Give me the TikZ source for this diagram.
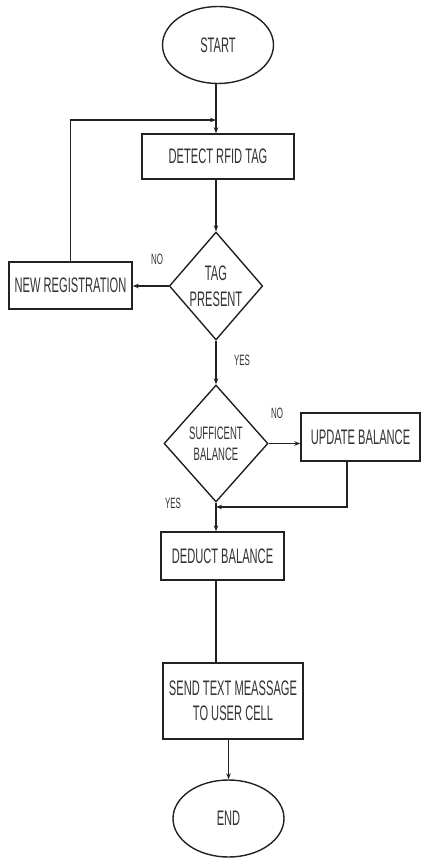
\documentclass[tikz,border=0pt]{standalone}
\usepackage{fontspec}
\setmainfont{Liberation Sans}[FakeStretch=0.53]
\usetikzlibrary{shapes.geometric,arrows.meta}
\definecolor{ink}{HTML}{222222}
\definecolor{txt}{HTML}{333333}
\begin{document}
\begin{tikzpicture}[x=1pt,y=-1pt,
  every node/.style={text=txt},
  mainfont/.style={font=\fontsize{21}{25}\selectfont},
  procbox/.style={draw=ink,line width=1.4pt,rectangle,inner sep=0pt,mainfont,align=center},
  termnode/.style={draw=ink,line width=1.4pt,ellipse,inner sep=0pt,mainfont,minimum width=111pt,minimum height=77pt},
  decnode/.style={draw=ink,line width=1.4pt,diamond,inner sep=0pt,align=center},
  lbl/.style={font=\fontsize{15}{16}\selectfont,inner sep=0pt},
  conn/.style={draw=ink,line width=1.3pt},
  arr/.style={conn,-{Stealth[length=6pt,width=4.5pt]}}]
\useasboundingbox (0,0) rectangle (422,858);
\node[termnode] (start) at (218,45) {START};
\node[procbox,minimum width=152pt,minimum height=45pt] (detect) at (218,156.5) {DETECT RFID TAG};
\node[decnode,minimum width=90pt,minimum height=108pt,font=\fontsize{21}{26}\selectfont] (tag) at (216,286) {TAG\\PRESENT};
\node[procbox,minimum width=123pt,minimum height=47pt] (newreg) at (70.5,285.5) {NEW REGISTRATION};
\node[decnode,minimum width=104pt,minimum height=117pt,font=\fontsize{18}{21}\selectfont] (suff) at (216,443.5) {SUFFICENT\\BALANCE};
\node[procbox,minimum width=119pt,minimum height=48pt] (update) at (360.5,437) {UPDATE BALANCE};
\node[procbox,minimum width=123pt,minimum height=48pt] (deduct) at (222.5,556) {DEDUCT BALANCE};
\node[procbox,minimum width=140pt,minimum height=76pt] (send) at (233,701) {SEND TEXT MEASSAGE\\TO USER CELL};
\node[termnode] (end) at (228.5,818.5) {END};
\node[lbl] (no1) at (157,259) {NO};
\node[lbl] (yes1) at (242,360) {YES};
\node[lbl] (no2) at (277,413) {NO};
\node[lbl] (yes2) at (173,503) {YES};
\coordinate (j1) at (216,120);
\coordinate (j2) at (216,507);
\coordinate (u1) at (347,461);
\draw[arr] (start.south -| j1) -- (detect.north -| j1);
\draw[arr] (newreg.north) |- (j1);
\draw[arr] (detect.south -| tag.north) -- (tag.north);
\draw[arr] (tag.west) -- (newreg.east |- tag.west);
\draw[arr] (tag.south) -- (suff.north);
\draw[arr] (suff.east) -- (update.west |- suff.east);
\draw[arr] (suff.south) -- (deduct.north -| suff.south);
\draw[arr] (u1) |- (j2);
\draw[conn] (deduct.south -| tag.south) -- (send.north -| tag.south);
\draw[arr] (send.south -| end.north) -- (end.north);
\end{tikzpicture}
\end{document}
